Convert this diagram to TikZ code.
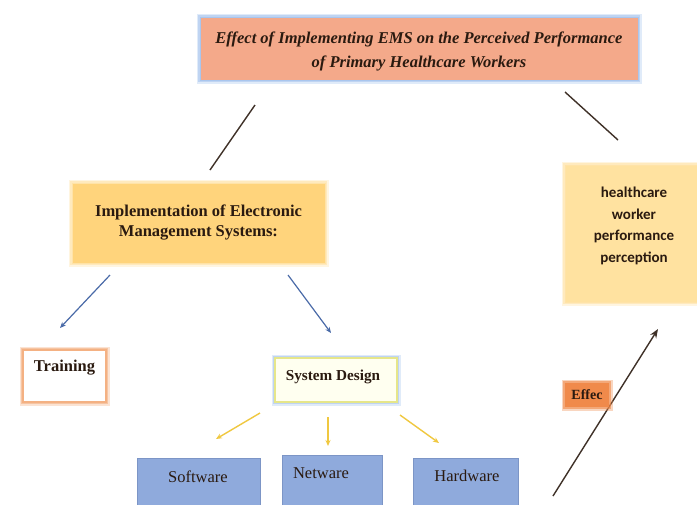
\documentclass[tikz,border=0pt]{standalone}
\usepackage{fontspec}
\setmainfont{Liberation Serif}
\newfontfamily\calib{Carlito}
\usetikzlibrary{arrows.meta}

\definecolor{salmon}{HTML}{F4A98A}
\definecolor{skyglow}{HTML}{A9C6EE}
\definecolor{gold}{HTML}{FFD47C}
\definecolor{goldglow}{HTML}{FFE3A8}
\definecolor{paleGold}{HTML}{FFE2A0}
\definecolor{peach}{HTML}{F4B183}
\definecolor{cream}{HTML}{FFFFF0}
\definecolor{lime}{HTML}{E6E68A}
\definecolor{lavblue}{HTML}{8FAADC}
\definecolor{lavedge}{HTML}{7C95C6}
\definecolor{steel}{HTML}{4A6BA8}
\definecolor{mustard}{HTML}{F0C840}
\definecolor{tangerine}{HTML}{F08A4B}
\definecolor{ink}{HTML}{2A1A10}

\tikzset{
  halo/.style={preaction={draw=#1, line width=7pt, opacity=0.35},
               preaction={draw=#1, line width=3.5pt, opacity=0.6}},
  box/.style={rectangle, inner sep=0pt, align=center, text=ink},
  headline/.style={box, fill=salmon, halo=skyglow, draw=skyglow, line width=1pt},
  headtext/.style={box, font=\bfseries\itshape\fontsize{16.5}{24}\selectfont},
  mainbox/.style={box, fill=gold, halo=goldglow, draw=goldglow, line width=1pt,
                  font=\bfseries\fontsize{16.5}{20}\selectfont},
  outcome/.style={box, fill=paleGold, halo=goldglow, draw=goldglow, line width=1pt},
  outtext/.style={box, font=\calib\bfseries\fontsize{15}{21.5}\selectfont},
  trainbox/.style={box, fill=white, halo=peach, draw=peach, line width=1.5pt},
  traintext/.style={box, font=\bfseries\fontsize{16.5}{18}\selectfont},
  designbox/.style={box, fill=cream, halo=skyglow, draw=lime, line width=1.2pt},
  designtext/.style={box, font=\bfseries\fontsize{15.2}{18}\selectfont},
  partbox/.style={box, fill=lavblue, draw=lavedge, line width=0.6pt},
  parttext/.style={box, font=\fontsize{16.5}{18}\selectfont},
  plain/.style={draw=ink!90, line width=1.4pt},
  bluearrow/.style={draw=steel, line width=1.2pt, -{Stealth[length=6pt,width=5pt]}},
  goldarrow/.style={draw=mustard, line width=1.4pt, -{Stealth[length=6pt,width=5pt]}},
  effectarrow/.style={draw=ink!90, line width=1.4pt, -{Stealth[length=9pt,width=7pt]}},
  tag/.style={box, fill=tangerine, halo=tangerine, font=\bfseries\fontsize{14}{16}\selectfont,
              minimum width=44pt, minimum height=24pt}
}

\begin{document}
\begin{tikzpicture}[x=1pt, y=-1pt]
  \clip (0,0) rectangle (697,504);
  \fill[white] (0,0) rectangle (697,504);

  % boxes and their captions
  \node[headline, minimum width=438pt, minimum height=63pt] (title) at (419,48.5) {};
  \node[headtext] (titlelbl) at (419,51)
    {Effect of Implementing EMS on the Perceived Performance\\of Primary Healthcare Workers};
  \node[mainbox, minimum width=253pt, minimum height=80pt] (impl) at (198.5,223)
    {Implementation of Electronic\\Management Systems:};
  \node[outcome, minimum width=132pt, minimum height=137pt] (perc) at (631,233.5) {};
  \node[outtext] (perclbl) at (634,226)
    {healthcare\\worker\\performance\\perception};

  \node[trainbox, minimum width=83pt, minimum height=52pt] (train) at (64.5,376) {};
  \node[traintext] (trainlbl) at (64.5,368) {Training};

  \node[designbox, minimum width=122pt, minimum height=44pt] (design) at (336,380) {};
  \node[designtext] (designlbl) at (333,377) {System Design};

  \node[partbox, minimum width=123pt, minimum height=60pt] (soft) at (198.5,488) {};
  \node[parttext] (softlbl) at (198,477) {Software};
  \node[partbox, minimum width=100pt, minimum height=62pt] (net) at (332,486) {};
  \node[parttext] (netlbl) at (321,473) {Netware};
  \node[partbox, minimum width=105pt, minimum height=60pt] (hard) at (465.5,488) {};
  \node[parttext] (hardlbl) at (467,476) {Hardware};

  % connector end points
  \coordinate (ta) at (255,105);
  \coordinate (tb) at (210,170);
  \coordinate (ra) at (565,92);
  \coordinate (rb) at (618,140);
  \coordinate (bl0) at (110,275);
  \coordinate (bl1) at (60,328);
  \coordinate (br0) at (288,275);
  \coordinate (br1) at (331,333);
  \coordinate (gl0) at (260,413);
  \coordinate (gl1) at (216,439);
  \coordinate (gm0) at (328,417);
  \coordinate (gm1) at (328,446);
  \coordinate (gr0) at (400,415);
  \coordinate (gr1) at (439,443);
  \coordinate (ea) at (553,496);
  \coordinate (eb) at (658,329);

  % connectors
  \draw[plain] (ta) -- (tb);
  \draw[plain] (ra) -- (rb);
  \draw[bluearrow] (bl0) -- (bl1);
  \draw[bluearrow] (br0) -- (br1);
  \draw[goldarrow] (gl0) -- (gl1);
  \draw[goldarrow] (gm0) -- (gm1);
  \draw[goldarrow] (gr0) -- (gr1);
  \draw[effectarrow] (ea) -- (eb);

  \node[tag] (effect) at (587,395) {Effec};
\end{tikzpicture}
\end{document}
